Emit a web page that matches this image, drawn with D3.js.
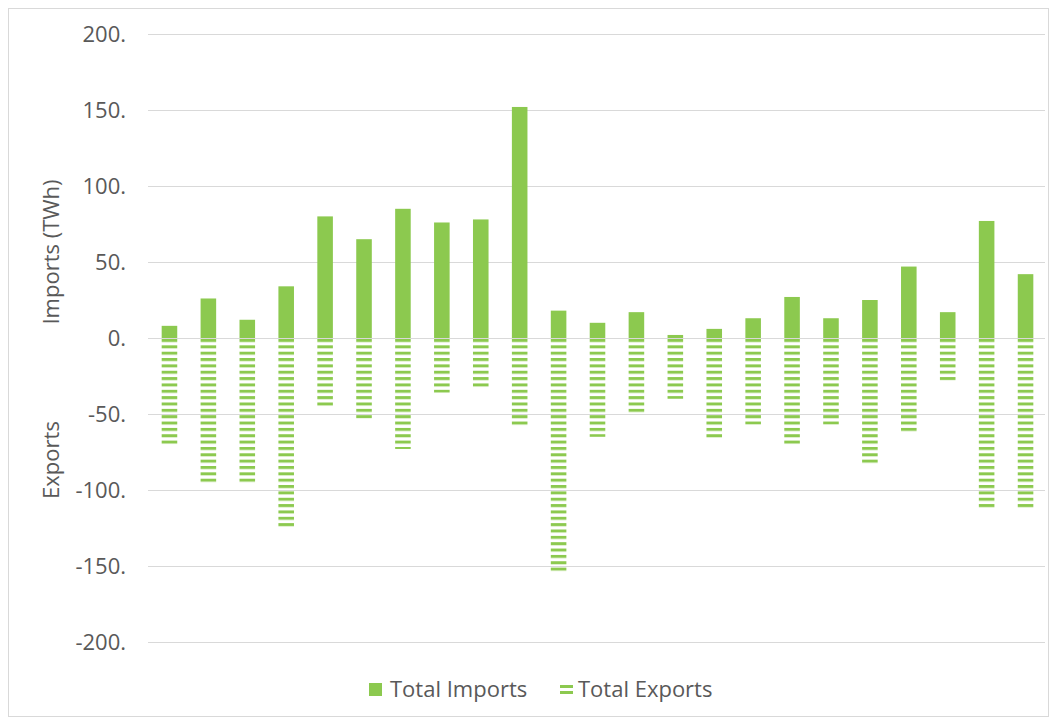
<!DOCTYPE html>
<html>
<head>
<meta charset="utf-8">
<script src="https://cdn.jsdelivr.net/npm/d3@7"></script>
<style>
  body { margin: 0; background: #fff; }
  text { font-family: "Open Sans", "Noto Sans", sans-serif; fill: #595959; }
</style>
</head>
<body>
<script>
// chart data (TWh)
var categories = [1,2,3,4,5,6,7,8,9,10,11,12,13,14,15,16,17,18,19,20,21,22,23];
var imports = [8, 26, 12, 34, 80, 65, 85, 76, 78, 152, 18, 10, 17, 2, 6, 13, 27, 13, 25, 47, 17, 77, 42];
var exports = [-70, -96, -96, -125, -45, -53, -73, -36, -33, -58, -154, -65, -50, -40, -66, -57, -70, -57, -83, -62, -28, -113, -112];
var yTicks = [200, 150, 100, 50, 0, -50, -100, -150, -200];
var seriesNames = ['Total Imports', 'Total Exports'];

var green = '#8cc94f';

var svg = d3.select('body').append('svg').attr('width', 1056).attr('height', 720);

// chart border
svg.append('rect')
  .attr('x', 8.5).attr('y', 8.5).attr('width', 1040).attr('height', 708)
  .attr('fill', '#fff').attr('stroke', '#d9d9d9');

// stripe pattern for exports
var defs = svg.append('defs');
var pat = defs.append('pattern')
  .attr('id', 'stripes')
  .attr('patternUnits', 'userSpaceOnUse')
  .attr('width', 20).attr('height', 6.35)
  .attr('y', 339);
pat.append('rect').attr('x', 0).attr('y', 0).attr('width', 20).attr('height', 3).attr('fill', green);

var x = d3.scaleBand().domain(categories).range([150, 1045]).paddingInner(0.6).paddingOuter(0.3);
var y = d3.scaleLinear().domain([-200, 200]).range([642, 34]);

// gridlines + tick labels
var yAxis = d3.axisLeft(y).tickValues(yTicks).tickSize(-(1045 - 148)).tickFormat(d => d + '.');
var gAxis = svg.append('g').attr('transform', 'translate(148,0)').call(yAxis);
gAxis.select('.domain').remove();
gAxis.selectAll('line').attr('stroke', '#d9d9d9').attr('stroke-width', 1);
gAxis.selectAll('text')
  .attr('x', -22).attr('dy', '0.35em')
  .style('font-size', '22px').attr('fill', '#595959');

// imports
svg.selectAll('rect.imp')
  .data(imports)
  .enter().append('rect')
    .attr('class', 'imp')
    .attr('x', (d, i) => x(categories[i]))
    .attr('width', x.bandwidth())
    .attr('y', d => y(d))
    .attr('height', d => y(0) - y(d))
    .attr('fill', green);

// exports
svg.selectAll('rect.exp')
  .data(exports)
  .enter().append('rect')
    .attr('class', 'exp')
    .attr('x', (d, i) => x(categories[i]))
    .attr('width', x.bandwidth())
    .attr('y', y(0) + 1)
    .attr('height', d => y(d) - y(0) - 1)
    .attr('fill', 'url(#stripes)');

// axis titles
svg.append('text')
  .attr('transform', 'translate(59,252) rotate(-90)')
  .attr('text-anchor', 'middle')
  .style('font-size', '22px')
  .text('Imports (TWh)');
svg.append('text')
  .attr('transform', 'translate(59,460) rotate(-90)')
  .attr('text-anchor', 'middle')
  .style('font-size', '22px')
  .text('Exports');

// legend
var leg = svg.append('g');
leg.append('rect').attr('x', 369).attr('y', 683).attr('width', 13).attr('height', 13).attr('fill', green);
leg.append('text').attr('x', 390).attr('y', 697).style('font-size', '22px').text(seriesNames[0]);
leg.append('rect').attr('x', 560).attr('y', 685).attr('width', 13).attr('height', 3).attr('fill', green);
leg.append('rect').attr('x', 560).attr('y', 691).attr('width', 13).attr('height', 3).attr('fill', green);
leg.append('text').attr('x', 578).attr('y', 697).style('font-size', '22px').text(seriesNames[1]);
</script>
</body>
</html>
